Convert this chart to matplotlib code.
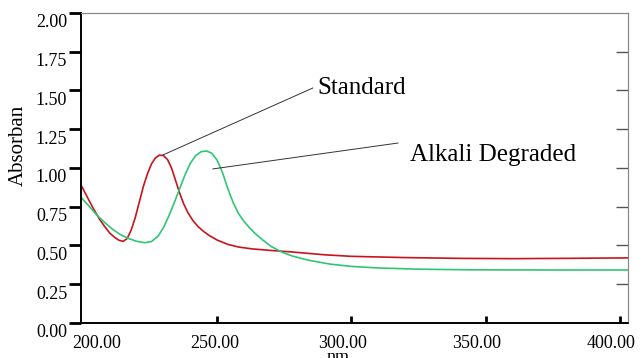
import matplotlib
matplotlib.use('Agg')
import matplotlib.pyplot as plt
import matplotlib.transforms as mtransforms

###############################
#data
###############################

std_nm = [199.3, 202, 204, 206, 208, 210, 212, 213.5, 215, 216.5, 218, 219.5, 221,
          222.5, 224, 225.5, 227, 228.5, 230, 231.5, 233, 234.5, 236, 237.5, 239,
          241, 243, 245, 247, 250, 254, 258, 263, 270, 278, 290, 300, 320, 340,
          360, 380, 403]
std_abs = [0.89, 0.80, 0.735, 0.675, 0.625, 0.58, 0.55, 0.533, 0.527, 0.545, 0.6,
           0.68, 0.78, 0.88, 0.96, 1.025, 1.065, 1.083, 1.08, 1.055, 1.0, 0.92,
           0.84, 0.77, 0.715, 0.66, 0.62, 0.59, 0.565, 0.535, 0.507, 0.49, 0.478,
           0.468, 0.458, 0.44, 0.43, 0.422, 0.417, 0.415, 0.417, 0.42]

alk_nm = [199.3, 202, 205, 208, 211, 214, 217, 220, 223, 225.5, 228, 230, 232, 234,
          236, 238, 240, 242, 244, 246, 248, 250, 252, 254, 256, 258, 260, 262,
          264, 267, 270, 274, 278, 284, 292, 300, 310, 325, 345, 370, 403]
alk_abs = [0.81, 0.76, 0.70, 0.65, 0.605, 0.57, 0.545, 0.527, 0.518, 0.525, 0.56,
           0.615, 0.69, 0.775, 0.865, 0.955, 1.03, 1.08, 1.105, 1.11, 1.095, 1.05,
           0.97, 0.865, 0.775, 0.705, 0.655, 0.615, 0.58, 0.535, 0.495, 0.458,
           0.432, 0.405, 0.38, 0.365, 0.355, 0.347, 0.343, 0.342, 0.342]

xticks = [200, 250, 300, 350, 400]
yticks = [0.0, 0.25, 0.5, 0.75, 1.0, 1.25, 1.5, 1.75, 2.0]

###############################
#plotting
###############################

plt.rcParams['font.family'] = ['Liberation Serif', 'DejaVu Serif']

fig = plt.figure(figsize=(6.43, 3.58), dpi=100)
ax = fig.add_axes([0.126, 0.0978, 0.8507, 0.8659])

ax.plot(std_nm, std_abs, color='#c8141c', lw=1.2)
ax.plot(alk_nm, alk_abs, color='#2fc774', lw=1.2)

ax.set_xlim(199.3, 403)
ax.set_ylim(0, 2)

ax.set_xticks(xticks)
ax.set_xticklabels(['%.2f' % v for v in xticks], fontsize=13)
ax.set_yticks(yticks)
ax.set_yticklabels(['%.2f' % v for v in yticks], fontsize=13)

ax.tick_params(axis='y', direction='out', length=9, width=2, pad=1, color='black')
ax.tick_params(axis='x', direction='in', length=5, width=2, pad=9, color='black')

# no tick marks at the two ends of the left axis
ylines = ax.yaxis.get_major_ticks()
ylines[0].tick1line.set_visible(False)
ylines[-1].tick1line.set_visible(False)
ax.xaxis.get_major_ticks()[0].tick1line.set_visible(False)

# right side ticks are thin and point inward
ax2 = ax.twinx()
ax2.set_ylim(0, 2)
ax2.set_yticks(yticks[1:-1])
ax2.tick_params(axis='y', direction='in', length=9, width=1, color='#555555', labelright=False)

for a in (ax, ax2):
    a.spines['top'].set_color('#888888')
    a.spines['right'].set_color('#888888')
    a.spines['left'].set_color('black')
    a.spines['bottom'].set_color('black')
    a.spines['left'].set_linewidth(1.2)
    a.spines['bottom'].set_linewidth(1.2)

# the reference draws the y labels a bit below their ticks
for lab in ax.get_yticklabels():
    lab.set_transform(lab.get_transform() + mtransforms.ScaledTranslation(0, -8 / 100, fig.dpi_scale_trans))
xshift = [14, -2, -9, -9, -9]
for lab, dx in zip(ax.get_xticklabels(), xshift):
    lab.set_transform(lab.get_transform() + mtransforms.ScaledTranslation(dx / 100, 0, fig.dpi_scale_trans))

ax.set_ylabel('Absorban', fontsize=15)
ax.yaxis.set_label_coords(-0.097, 0.574)
ax.set_xlabel('nm', fontsize=13)
ax.xaxis.set_label_coords(0.47, -0.085)

# pointer lines and labels
ax.plot([229.8, 285.6], [1.084, 1.516], color='#333333', lw=0.7)
ax.text(287.5, 1.516, 'Standard', fontsize=18, va='center', ha='left')
ax.plot([248.4, 317.3], [0.994, 1.161], color='#333333', lw=0.7)
ax.text(321.7, 1.084, 'Alkali Degraded', fontsize=18, va='center', ha='left')

fig.savefig('out.png', dpi=100)
